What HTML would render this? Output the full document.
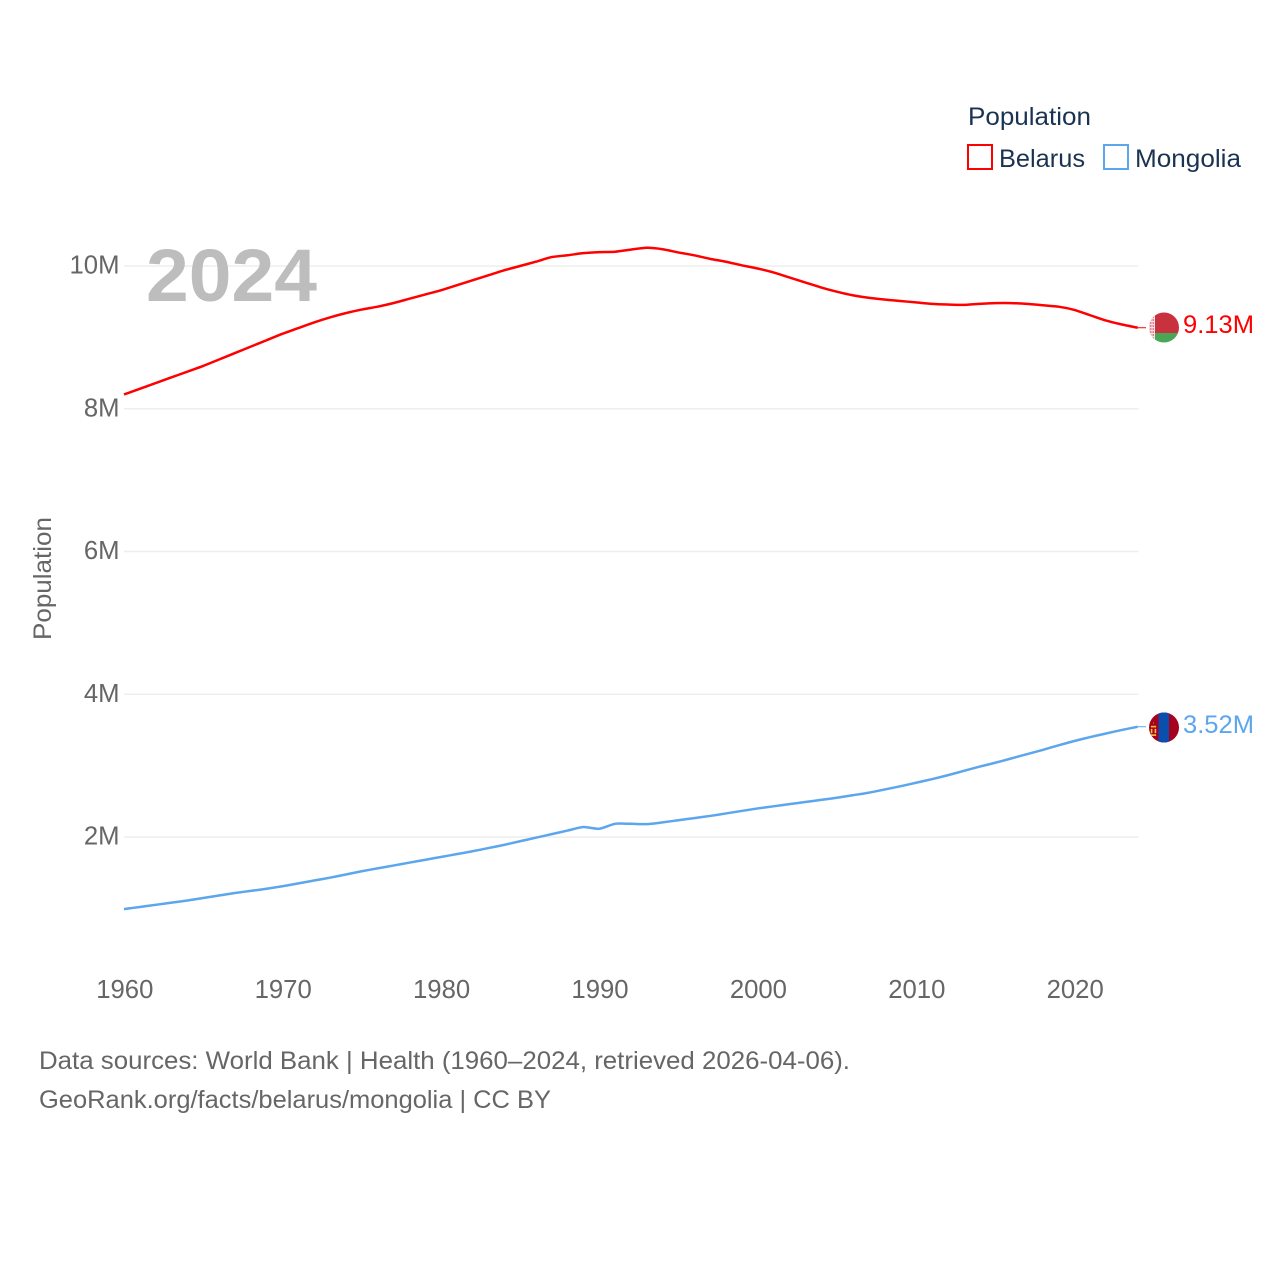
<!DOCTYPE html>
<html lang="en">
<head>
<meta charset="utf-8">
<title>Population: Belarus and Mongolia</title>
<style>
html,body{margin:0;padding:0;background:#fff}
svg{display:block}
text{font-family:"Liberation Sans",sans-serif;font-size:25px;fill:#666}
</style>
</head>
<body>
<svg id="chart" width="1280" height="1280" viewBox="0 0 1280 1280" xmlns="http://www.w3.org/2000/svg">
<defs>
<clipPath id="clip-by"><circle cx="1164" cy="327.5" r="15"/></clipPath>
<clipPath id="clip-mn"><circle cx="1164" cy="727.5" r="15"/></clipPath>
</defs>
<rect width="1280" height="1280" fill="#fff"/>
<g id="grid"></g>
<text x="146" y="301" textLength="171" lengthAdjust="spacingAndGlyphs" style="font-size:74px;font-weight:700;fill:#bdbdbd">2024</text>
<g id="yticks"></g>
<g id="xticks"></g>
<text transform="translate(51,640) rotate(-90)" textLength="123" lengthAdjust="spacingAndGlyphs">Population</text>
<g id="lines"></g>

<g clip-path="url(#clip-by)">
<rect x="1149" y="312" width="30" height="21" fill="#c8313e"/>
<rect x="1149" y="333" width="30" height="11" fill="#4aa657"/>
<rect x="1149" y="312" width="6" height="32" fill="#f6e3e5"/>
<path d="M1150 314h4M1150 317h4M1150 320h4M1150 323h4M1150 326h4M1150 329h4M1150 332h4M1150 335h4M1150 338h4" stroke="#d9626e" stroke-width="1.4" stroke-dasharray="1.5 1" fill="none"/>
</g>
<text x="1183" y="333" textLength="71" lengthAdjust="spacingAndGlyphs" style="fill:#ff0000">9.13M</text>

<g clip-path="url(#clip-mn)">
<rect x="1149" y="712" width="30" height="31" fill="#a5021f"/>
<rect x="1158.5" y="712" width="10.5" height="31" fill="#0b4fae"/>
<path d="M1153.5 722v2M1151 726h5v1.2h-5zM1151 729h1.2v4h-1.2zM1154.8 729h1.2v4h-1.2zM1151 734.5h5v1.2h-5z" fill="#f5c242" stroke="#f5c242" stroke-width="0.4"/>
</g>
<text x="1183" y="733" textLength="71" lengthAdjust="spacingAndGlyphs" style="fill:#5ca6ee">3.52M</text>

<g>
<text x="968" y="125" textLength="123" lengthAdjust="spacingAndGlyphs" style="fill:#1a3352">Population</text>
<g>
<rect x="968" y="145" width="24" height="24" fill="#fff" stroke="#ff0000" stroke-width="2"/>
<text x="999" y="167" textLength="86" lengthAdjust="spacingAndGlyphs" style="fill:#1a3352">Belarus</text>
</g>
<g>
<rect x="1104" y="145" width="24" height="24" fill="#fff" stroke="#5ca6ee" stroke-width="2"/>
<text x="1135" y="167" textLength="106" lengthAdjust="spacingAndGlyphs" style="fill:#1a3352">Mongolia</text>
</g>
</g>

<text x="39" y="1069" textLength="811" lengthAdjust="spacingAndGlyphs">Data sources: World Bank | Health (1960–2024, retrieved 2026-04-06).</text>
<text x="39" y="1108" textLength="512" lengthAdjust="spacingAndGlyphs">GeoRank.org/facts/belarus/mongolia | CC BY</text>
</svg>
<script>
const firstYear = 1960;
const belarusValues = [8.20,8.28,8.36,8.44,8.52,8.60,8.69,8.78,8.87,8.96,9.05,9.13,9.21,9.28,9.34,9.39,9.43,9.48,9.54,9.60,9.66,9.73,9.80,9.87,9.94,10.00,10.06,10.125,10.15,10.18,10.195,10.20,10.23,10.255,10.235,10.19,10.15,10.10,10.06,10.01,9.965,9.91,9.84,9.77,9.70,9.64,9.59,9.555,9.53,9.51,9.49,9.47,9.46,9.455,9.47,9.48,9.48,9.47,9.45,9.43,9.385,9.31,9.235,9.18,9.135];
const mongoliaValues = [0.99,1.02,1.05,1.08,1.11,1.145,1.18,1.215,1.245,1.275,1.31,1.35,1.39,1.43,1.475,1.52,1.56,1.60,1.64,1.68,1.72,1.76,1.80,1.845,1.89,1.94,1.99,2.04,2.09,2.14,2.115,2.185,2.185,2.18,2.205,2.235,2.265,2.295,2.33,2.365,2.40,2.43,2.46,2.49,2.52,2.55,2.585,2.62,2.665,2.71,2.76,2.81,2.865,2.925,2.985,3.04,3.10,3.16,3.22,3.285,3.345,3.40,3.45,3.50,3.545];
const yTickValues = [2,4,6,8,10];
const yTickLabels = ["2M","4M","6M","8M","10M"];
const xTickValues = [1960,1970,1980,1990,2000,2010,2020];

const NS = "http://www.w3.org/2000/svg";
function xScale(year) { return 124 + (year - 1960) * 15.84; }
function yScale(v) { return 837 - (v - 2) * 71.375; }

const gridG = document.getElementById("grid");
const yG = document.getElementById("yticks");
const xG = document.getElementById("xticks");
const linesG = document.getElementById("lines");

yTickValues.forEach(function (v, i) {
  const line = document.createElementNS(NS, "line");
  
  
  line.setAttribute("x1", xScale(1960));
  line.setAttribute("x2", 1138.5);
  line.setAttribute("y1", yScale(v));
  line.setAttribute("y2", yScale(v));
  line.setAttribute("stroke", "#eeeeee");
  line.setAttribute("stroke-width", 1.5);
  gridG.appendChild(line);
  const t = document.createElementNS(NS, "text");
  
  
  t.setAttribute("x", 119.5);
  t.setAttribute("y", yScale(v) + 7.5);
  t.setAttribute("text-anchor", "end");
  t.setAttribute("style", "font-size:25.7px");
  t.textContent = yTickLabels[i];
  yG.appendChild(t);
});

xTickValues.forEach(function (year) {
  const t = document.createElementNS(NS, "text");
  
  
  t.setAttribute("x", xScale(year) + 0.8);
  t.setAttribute("y", 998);
  t.setAttribute("text-anchor", "middle");
  t.setAttribute("style", "font-size:25.7px");
  t.textContent = String(year);
  xG.appendChild(t);
});

function pathFor(values) {
  const pts = values.map(function (v, i) {
    return [xScale(firstYear + i), yScale(v)];
  });
  let d = "M" + pts[0][0].toFixed(2) + " " + pts[0][1].toFixed(2);
  for (let i = 0; i < pts.length - 1; i++) {
    const p0 = pts[Math.max(i - 1, 0)];
    const p1 = pts[i];
    const p2 = pts[i + 1];
    const p3 = pts[Math.min(i + 2, pts.length - 1)];
    const k = 0.12;
    d += "C" + (p1[0] + (p2[0] - p0[0]) * k).toFixed(2) + " " + (p1[1] + (p2[1] - p0[1]) * k).toFixed(2) +
         " " + (p2[0] - (p3[0] - p1[0]) * k).toFixed(2) + " " + (p2[1] - (p3[1] - p1[1]) * k).toFixed(2) +
         " " + p2[0].toFixed(2) + " " + p2[1].toFixed(2);
  }
  return d;
}

function drawSeries(values, color, name) {
  const p = document.createElementNS(NS, "path");
  
  
  p.setAttribute("d", pathFor(values));
  p.setAttribute("fill", "none");
  p.setAttribute("stroke", color);
  p.setAttribute("stroke-width", 2.5);
  p.setAttribute("stroke-linejoin", "round");
  linesG.appendChild(p);
  const last = values[values.length - 1];
  const c = document.createElementNS(NS, "line");
  
  
  c.setAttribute("x1", xScale(firstYear + values.length - 1));
  c.setAttribute("x2", 1146);
  c.setAttribute("y1", yScale(last));
  c.setAttribute("y2", yScale(last));
  c.setAttribute("stroke", color);
  c.setAttribute("stroke-width", 1);
  linesG.appendChild(c);
}
drawSeries(belarusValues, "#ff0000", "belarus-line");
drawSeries(mongoliaValues, "#5ca6ee", "mongolia-line");
</script>
</body>
</html>
